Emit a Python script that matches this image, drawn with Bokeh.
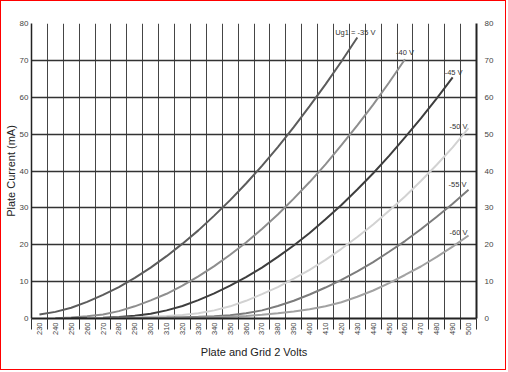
import math
from bokeh.plotting import figure
from bokeh.models import Range1d, FixedTicker, LinearAxis, ColumnDataSource, Title
from bokeh.embed import file_html
from bokeh.resources import INLINE
from bokeh.core.properties import value

# ---- data -------------------------------------------------------------
volts = [230, 240, 250, 260, 270, 280, 290, 300, 310, 320, 330, 340, 350, 360,
         370, 380, 390, 400, 410, 420, 430, 440, 450, 460, 470, 480, 490, 500]
x_tick_labels = [str(v) for v in volts]
ma_ticks = [0, 10, 20, 30, 40, 50, 60, 70, 80]

ug35_v = [230, 240, 250, 260, 270, 280, 290, 300, 310, 320, 330, 340, 350, 360,
          370, 380, 390, 400, 410, 420, 430]
ug35_ma = [1.1, 1.8, 2.9, 4.5, 6.4, 8.5, 11.0, 13.8, 16.9, 20.3, 23.9, 27.9, 32.1,
           36.6, 41.4, 46.5, 51.9, 57.6, 63.5, 69.7, 76.2]

ug40_v = [240, 250, 260, 270, 280, 290, 300, 310, 320, 330, 340, 350, 360, 370,
          380, 390, 400, 410, 420, 430, 440, 450, 460]
ug40_ma = [0.1, 0.3, 0.6, 1.1, 2.0, 3.3, 4.9, 6.7, 8.9, 11.4, 14.2, 17.3, 20.6,
           24.3, 28.2, 32.5, 37.0, 41.8, 47.0, 52.4, 58.0, 64.0, 70.3]

ug45_v = [250, 260, 270, 280, 290, 300, 310, 320, 330, 340, 350, 360, 370, 380,
          390, 400, 410, 420, 430, 440, 450, 460, 470, 480, 490]
ug45_ma = [0.05, 0.1, 0.2, 0.4, 0.75, 1.3, 2.2, 3.4, 5.0, 6.8, 8.9, 11.2, 13.8,
           16.7, 19.8, 23.2, 26.9, 30.8, 35.0, 39.4, 44.1, 49.1, 54.3, 59.7, 65.4]

ug50_v = [260, 270, 280, 290, 300, 310, 320, 330, 340, 350, 360, 370, 380, 390,
          400, 410, 420, 430, 440, 450, 460, 470, 480, 490, 500]
ug50_ma = [0.05, 0.1, 0.2, 0.3, 0.45, 0.65, 0.95, 1.45, 2.2, 3.3, 4.8, 6.6, 8.5,
           10.8, 13.2, 15.9, 18.9, 22.1, 25.5, 29.2, 33.1, 37.3, 41.7, 46.4, 51.6]

ug55_v = [270, 280, 290, 300, 310, 320, 330, 340, 350, 360, 370, 380, 390, 400,
          410, 420, 430, 440, 450, 460, 470, 480, 490, 500]
ug55_ma = [0.05, 0.08, 0.12, 0.18, 0.25, 0.35, 0.45, 0.6, 0.9, 1.4, 2.2, 3.4, 4.8,
           6.5, 8.4, 10.5, 12.8, 15.3, 18.1, 21.0, 24.2, 27.6, 31.1, 34.9]

ug60_v = [280, 290, 300, 310, 320, 330, 340, 350, 360, 370, 380, 390, 400, 410,
          420, 430, 440, 450, 460, 470, 480, 490, 500]
ug60_ma = [0.03, 0.05, 0.08, 0.12, 0.18, 0.25, 0.35, 0.5, 0.7, 1.0, 1.4, 1.9, 2.5,
           3.3, 4.4, 5.9, 7.6, 9.6, 11.8, 14.1, 16.7, 19.5, 22.5]

series_labels = ["Ug1 = -35 V", "-40 V", "-45 V", "-50 V", "-55 V", "-60 V"]
x_title = "Plate and Grid 2 Volts"
y_title = "Plate Current (mA)"

# ---- styles -----------------------------------------------------------
series = [
    (ug35_v, ug35_ma, "#5c5c5c", -2, -5),
    (ug40_v, ug40_ma, "#8e8e8e", 0, -7),
    (ug45_v, ug45_ma, "#3e3e3e", 1, -5),
    (ug50_v, ug50_ma, "#d2d2d2", -10, -2),
    (ug55_v, ug55_ma, "#7c7c7c", -11, -5),
    (ug60_v, ug60_ma, "#a2a2a2", -10, -3),
]
FONT = "Liberation Sans"
half_step = (volts[1] - volts[0]) / 2

p = figure(width=506, height=370, output_backend="svg", toolbar_location=None,
           x_range=Range1d(volts[0] - half_step, volts[-1] + half_step),
           y_range=Range1d(ma_ticks[0], ma_ticks[-1]),
           min_border_left=30, min_border_right=31, min_border_top=22,
           min_border_bottom=53, x_axis_location=None, y_axis_location=None)
p.styles = {"border": "1px solid #ff0000"}
p.background_fill_color = "white"
p.border_fill_color = "white"
p.outline_line_color = None

grid_x = [v - half_step for v in volts] + [volts[-1] + half_step]

# bottom axis
xaxis = LinearAxis(ticker=FixedTicker(ticks=volts, minor_ticks=grid_x),
                   major_label_overrides={v: s for v, s in zip(volts, x_tick_labels)},
                   axis_label=x_title)
xaxis.major_label_orientation = math.pi / 2
xaxis.major_tick_out = 0
xaxis.major_tick_in = 0
xaxis.minor_tick_out = 11
xaxis.minor_tick_in = 0
xaxis.minor_tick_line_color = "#333333"
xaxis.minor_tick_line_width = 1
xaxis.axis_line_color = "#222222"
xaxis.axis_line_width = 2
xaxis.major_label_standoff = -7
xaxis.major_label_text_font = FONT
xaxis.major_label_text_font_size = "7.5px"
xaxis.major_label_text_color = "#444444"
xaxis.axis_label_standoff = 8
xaxis.axis_label_text_font = FONT
xaxis.axis_label_text_font_size = "11px"
xaxis.axis_label_text_font_style = "normal"
xaxis.axis_label_text_color = "#222222"
p.add_layout(xaxis, "below")

# left axis
yaxis = LinearAxis(ticker=FixedTicker(ticks=ma_ticks))
yaxis.major_tick_out = 0
yaxis.major_tick_in = 0
yaxis.minor_tick_out = 0
yaxis.minor_tick_in = 0
yaxis.axis_line_color = "#222222"
yaxis.axis_line_width = 1.5
yaxis.major_label_standoff = 3
yaxis.major_label_text_font = FONT
yaxis.major_label_text_font_size = "8px"
yaxis.major_label_text_color = "#444444"
p.add_layout(yaxis, "left")

# left title (vertical), kept compact so the frame keeps its place
ytitle = Title(text=y_title, align="center", standoff=0, offset=0,
               text_font=FONT, text_font_size="11px", text_font_style="normal",
               text_line_height=0.8, text_color="#222222")
p.add_layout(ytitle, "left")

# right axis
raxis = LinearAxis(ticker=FixedTicker(ticks=ma_ticks))
raxis.major_tick_out = 0
raxis.major_tick_in = 0
raxis.minor_tick_out = 0
raxis.minor_tick_in = 0
raxis.axis_line_color = "#222222"
raxis.axis_line_width = 2
raxis.major_label_standoff = 8
raxis.major_label_text_font = FONT
raxis.major_label_text_font_size = "8px"
raxis.major_label_text_color = "#444444"
p.add_layout(raxis, "right")

# grids
p.xgrid.ticker = FixedTicker(ticks=grid_x)
p.xgrid.grid_line_color = "#454545"
p.xgrid.grid_line_width = 1
p.ygrid.ticker = FixedTicker(ticks=ma_ticks)
p.ygrid.grid_line_color = "#333333"
p.ygrid.grid_line_width = 1.3

# curves
lx, ly, lt, lxo, lyo = [], [], [], [], []
for (vx, vy, col, xo, yo), lab in zip(series, series_labels):
    p.line(vx, vy, line_color=col, line_width=2)
    lx.append(vx[-1]); ly.append(vy[-1]); lt.append(lab); lxo.append(xo); lyo.append(yo)

src = ColumnDataSource(dict(x=lx, y=ly, t=lt, xo=lxo, yo=lyo))
p.text(x="x", y="y", text="t", x_offset="xo", y_offset="yo", source=src,
       text_font=value(FONT), text_font_size="7.5px", text_color="#333333",
       text_align="center", text_baseline="middle")

open("out.html", "w").write(file_html(p, INLINE))
